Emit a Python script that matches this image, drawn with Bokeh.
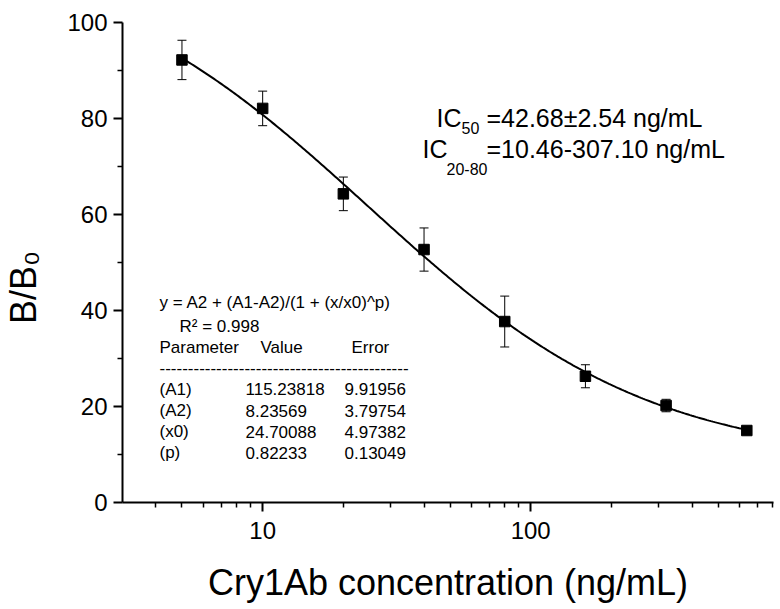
import numpy as np
from bokeh.plotting import figure
from bokeh.models import (ColumnDataSource, FixedTicker, Label, Whisker, TeeHead,
                          BasicTickFormatter, Range1d)
from bokeh.embed import file_html
from bokeh.resources import INLINE

# ---------------- data ----------------
conc = [5, 10, 20, 40, 80, 160, 320, 640]
bb0 = [92.2, 82.1, 64.3, 52.7, 37.7, 26.3, 20.2, 15.0]
err = [4.1, 3.6, 3.5, 4.5, 5.3, 2.4, 1.3, 0.5]

fit_A1 = 115.23818
fit_A2 = 8.23569
fit_x0 = 24.70088
fit_p = 0.82233

param_names = ["(A1)", "(A2)", "(x0)", "(p)"]
param_values = ["115.23818", "8.23569", "24.70088", "0.82233"]
param_errors = ["9.91956", "3.79754", "4.97382", "0.13049"]

x_major = [10, 100]
x_minor = [4, 5, 6, 7, 8, 9, 20, 30, 40, 50, 60, 70, 80, 90,
           200, 300, 400, 500, 600, 700, 800]
y_major = [0, 20, 40, 60, 80, 100]
y_minor = [10, 30, 50, 70, 90]

FONT = "Liberation Sans"

# ---------------- figure ----------------
p = figure(width=776, height=609, x_axis_type="log",
           x_range=Range1d(3, 805), y_range=Range1d(0, 100),
           output_backend="svg", toolbar_location=None,
           min_border_left=119, min_border_right=3,
           min_border_top=22, min_border_bottom=107)
p.outline_line_color = None
p.grid.visible = False
p.background_fill_color = "white"

for ax in (p.xaxis[0], p.yaxis[0]):
    ax.axis_line_width = 2
    ax.axis_line_color = "black"
    ax.major_tick_line_width = 2
    ax.minor_tick_line_width = 1.5
    ax.major_tick_line_color = "black"
    ax.minor_tick_line_color = "black"
    ax.major_tick_out = 9
    ax.major_tick_in = 0
    ax.minor_tick_out = 5
    ax.minor_tick_in = 0
    ax.major_label_text_font = FONT
    ax.major_label_text_font_size = "24px"
    ax.major_label_text_color = "black"
    ax.axis_label_text_font = FONT
    ax.axis_label_text_font_size = "36px"
    ax.axis_label_text_font_style = "normal"
    ax.axis_label_text_color = "black"

p.xaxis.major_label_standoff = 10
p.yaxis.major_label_standoff = 6

p.xaxis.ticker = FixedTicker(ticks=x_major, minor_ticks=x_minor)
p.xaxis.formatter = BasicTickFormatter()
p.yaxis.ticker = FixedTicker(ticks=y_major, minor_ticks=y_minor)

p.xaxis.axis_label = "Cry1Ab concentration (ng/mL)"
p.xaxis.axis_label_standoff = 20
p.yaxis.axis_label = "B/B\u2080" + "\u00a0" * 5
p.yaxis.axis_label_standoff = 20

# ---------------- fit curve ----------------
xs = np.logspace(np.log10(conc[0]), np.log10(conc[-1]), 300)
ys = fit_A2 + (fit_A1 - fit_A2) / (1 + (xs / fit_x0) ** fit_p)
p.line(xs, ys, line_color="black", line_width=2)

# ---------------- points + error bars ----------------
src = ColumnDataSource(dict(
    x=conc, y=bb0,
    upper=[v + e for v, e in zip(bb0, err)],
    lower=[v - e for v, e in zip(bb0, err)],
))
wh = Whisker(base="x", upper="upper", lower="lower", source=src,
             line_color="black", line_width=1,
             upper_head=TeeHead(size=9, line_color="black", line_width=1),
             lower_head=TeeHead(size=9, line_color="black", line_width=1))
p.add_layout(wh)
p.scatter("x", "y", source=src, marker="square", size=10.5,
          fill_color="black", line_color="black")

# ---------------- annotations (screen units, frame-relative) ----------------
FL, FB = 119, 502  # frame left / bottom in window pixels


def lab(text, wx, wy, size):
    # wy is the text baseline in window pixels; renderer places given y near cap centre
    p.add_layout(Label(x=wx - FL, y=FB - (wy - 0.38 * size),
                       x_units="screen", y_units="screen",
                       text=text, text_font=FONT, text_font_size=f"{size}px",
                       text_color="black", text_baseline="alphabetic",
                       text_align="left"))


# IC texts
lab("IC", 433, 127, 25)
lab("50", 458, 134, 16)
lab("=42.68±2.54 ng/mL", 483, 127, 25)
lab("IC", 419, 158, 25)
lab("20-80", 443, 175, 16)
lab("=10.46-307.10 ng/mL", 483, 158, 25)

# fit table
lab("y = A2 + (A1-A2)/(1 + (x/x0)^p)", 156, 308, 17)
lab("R² = 0.998", 176, 332, 17)
lab("Parameter", 156, 353, 17)
lab("Value", 257, 353, 17)
lab("Error", 348, 353, 17)
lab("-" * 44, 156, 374, 17)
row_y = [395, 416.5, 437.5, 458.5]
for nm, vl, er, yy in zip(param_names, param_values, param_errors, row_y):
    lab(nm, 156, yy, 17)
    lab(vl, 242, yy, 17)
    lab(er, 341, yy, 17)

open("out.html", "w").write(file_html(p, INLINE))
